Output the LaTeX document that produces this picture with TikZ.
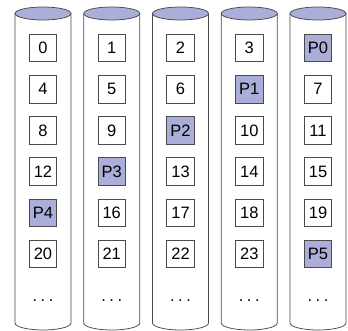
\documentclass[tikz,border=0pt]{standalone}
\usepackage{fontspec}
\setmainfont{Liberation Sans}
\usetikzlibrary{positioning}
\definecolor{parity}{HTML}{AAAED8}
\definecolor{edge}{HTML}{4A4A4A}

\begin{document}
\begin{tikzpicture}[x=1pt, y=-1pt, font=\fontsize{16.5}{19}\selectfont,
    cell/.style={draw=edge, line width=0.7pt, minimum width=27.5pt, minimum height=27.5pt, inner sep=0pt},
    pcell/.style={cell, fill=parity},
    disk/.style={draw=edge, line width=0.75pt}]
        \useasboundingbox (0,0) rectangle (348,331);
        \foreach \i/\row in {1/{0/cell,4/cell,8/cell,12/cell,P4/pcell,20/cell},
                             2/{1/cell,5/cell,9/cell,P3/pcell,16/cell,21/cell},
                             3/{2/cell,6/cell,P2/pcell,13/cell,17/cell,22/cell},
                             4/{3/cell,P1/pcell,10/cell,14/cell,18/cell,23/cell},
                             5/{P0/pcell,7/cell,11/cell,15/cell,19/cell,P5/pcell}}{
          \pgfmathsetmacro\cx{43+68.75*(\i-1)}
          \draw[disk] (\cx-28,13.5) -- (\cx-28,323)
            arc[start angle=180, end angle=0, x radius=28, y radius=7] -- (\cx+28,13.5);
          \draw[disk, fill=parity] (\cx,13.5) ellipse [x radius=28, y radius=6.5];
          \foreach \t/\s [count=\j] in \row
            \node[\s] (c\i-\j) at (\cx,{48+41.2*(\j-1)}) {\t};
          \node[anchor=base, inner sep=0pt] (d\i) at (\cx,301) {.\hspace{3.5pt}.\hspace{3.5pt}.};
        }
      \end{tikzpicture}
\end{document}
